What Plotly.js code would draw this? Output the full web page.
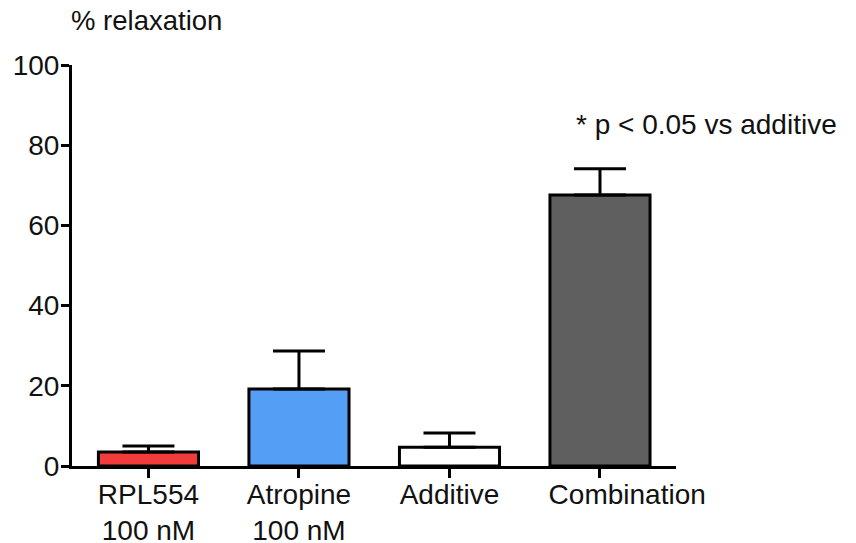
<!DOCTYPE html>
<html>
<head>
<meta charset="utf-8">
<script src="https://cdn.plot.ly/plotly-3.0.1.min.js"></script>
<style>
  html, body { margin: 0; padding: 0; background: #fff; }
  #chart { width: 856px; height: 543px; }
</style>
</head>
<body>
<div id="chart"></div>
<script>
// Treatment groups and mean % relaxation with upper error (SEM)
const categories = ["RPL554<br>100 nM", "Atropine<br>100 nM", "Additive",
                    "\u00a0\u00a0\u00a0\u00a0\u00a0\u00a0\u00a0Combination"];
const relaxation = [3.5, 19.2, 4.7, 67.6];
const errorUpper = [1.5, 9.5, 3.5, 6.5];
const barColors = ["#f23c3c", "#559ef6", "#ffffff", "#5f5f5f"];
const yTicks = [0, 20, 40, 60, 80, 100];

const positions = categories.map((_, i) => i);

const trace = {
  type: "bar",
  x: positions,
  y: relaxation,
  width: 0.665,
  marker: { color: barColors, line: { color: "#000", width: 3 } },
  error_y: {
    type: "data",
    symmetric: false,
    array: errorUpper,
    arrayminus: errorUpper.map(() => 0),
    color: "#000",
    thickness: 3,
    width: 26
  },
  hoverinfo: "skip"
};

const font = { family: "Liberation Sans, Arial, sans-serif", color: "#111" };

const layout = {
  width: 856,
  height: 543,
  margin: { l: 72, r: 180, t: 65, b: 77 },
  paper_bgcolor: "#fff",
  plot_bgcolor: "#fff",
  showlegend: false,
  bargap: 0,
  font: Object.assign({ size: 28 }, font),
  xaxis: {
    range: [-0.508, 3.505],
    tickvals: positions,
    ticktext: categories,
    tickangle: 0,
    showline: true,
    linecolor: "#000",
    linewidth: 3,
    ticks: "outside",
    ticklen: 9,
    tickwidth: 3,
    tickcolor: "#000",
    ticklabelstandoff: -8,
    showgrid: false,
    zeroline: false,
    fixedrange: true,
    tickfont: Object.assign({ size: 28 }, font)
  },
  yaxis: {
    range: [0, 100],
    tickvals: yTicks,
    showline: true,
    linecolor: "#000",
    linewidth: 3,
    ticks: "outside",
    ticklen: 8,
    tickwidth: 3,
    tickcolor: "#000",
    ticklabelstandoff: -4,
    showgrid: false,
    zeroline: false,
    fixedrange: true,
    tickfont: Object.assign({ size: 28 }, font)
  },
  annotations: [
    {
      text: "% relaxation",
      xref: "paper", yref: "paper",
      x: -0.005, y: 1.0, xanchor: "left", yanchor: "bottom",
      yshift: 27,
      showarrow: false,
      font: Object.assign({ size: 27.5 }, font)
    },
    {
      text: "* p < 0.05 vs additive",
      xref: "x", yref: "y",
      x: 2.825, y: 85.2, xanchor: "left", yanchor: "middle",
      showarrow: false,
      font: Object.assign({ size: 28 }, font)
    }
  ]
};

Plotly.newPlot("chart", [trace], layout, { displayModeBar: false, staticPlot: true });
</script>
</body>
</html>
